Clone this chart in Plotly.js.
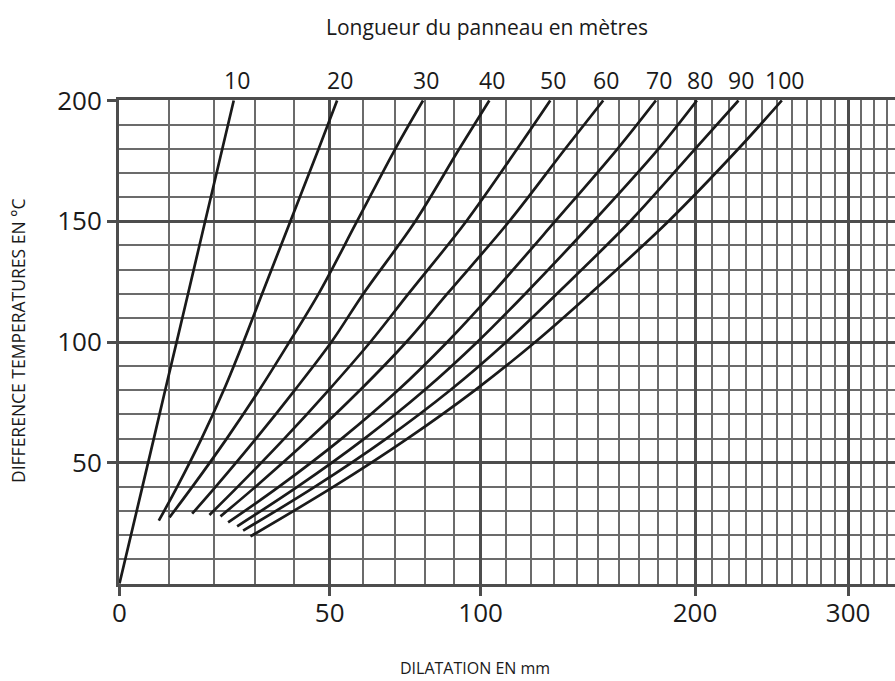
<!DOCTYPE html>
<html><head><meta charset="utf-8">
<script src="https://cdn.plot.ly/plotly-3.0.1.min.js"></script>
<style>html,body{margin:0;padding:0;background:#fff;} #chart{width:895px;height:681px;}</style>
</head><body><div id="chart"></div>
<script>
// Panel lengths (m) – one curve each
const panelLengths = [10, 20, 30, 40, 50, 60, 70, 80, 90, 100];
// Temperature where each curve starts (°C)
const startTemps = [0, 26, 27.4, 28.9, 28.4, 27.8, 25.3, 23.7, 21.9, 19.5];
// Temperature levels read after the start point (°C)
const tempLevels = [40, 60, 80, 100, 120, 150, 180, 200];
// Dilatation (mm) at the start temperature, then at each temperature level
const dil10  = [0, 4.55, 6.89, 9.27, 11.73, 14.22, 18.06, 22.04, 24.75];
const dil20  = [7.93, 11.84, 17.24, 22.35, 27.10, 31.76, 39.12, 46.87, 52.14];
const dil30  = [10.19, 15.15, 23.08, 31.00, 38.85, 46.87, 58.07, 70.05, 79.26];
const dil40  = [15.13, 20.45, 30.22, 40.24, 50.49, 59.98, 76.66, 92.08, 103.34];
const dil50  = [19.04, 25.69, 37.50, 49.65, 62.13, 74.38, 94.65, 114.42, 128.25];
const dil60  = [21.60, 30.05, 44.31, 58.91, 73.65, 87.75, 111.20, 134.82, 152.30];
const dil70  = [23.41, 36.03, 53.48, 70.90, 87.75, 104.38, 130.42, 159.21, 178.68];
const dil80  = [25.57, 40.97, 60.31, 79.71, 98.76, 117.70, 147.72, 180.05, 201.06];
const dil90  = [27.03, 45.75, 67.16, 88.75, 110.00, 131.16, 165.50, 200.10, 225.57];
const dil100 = [28.83, 51.03, 74.02, 97.81, 121.86, 146.18, 185.38, 225.57, 253.23];
const dilSeries = [dil10, dil20, dil30, dil40, dil50, dil60, dil70, dil80, dil90, dil100];
// Axis ticks
const xTickVals = [0, 50, 100, 200, 300];
const xTickText = ['0', '50', '100', '200', '300'];
const yTickVals = [50, 100, 150, 200];
const yTickText = ['50', '100', '150', '200'];

// The dilatation scale is graduated logarithmically in (mm + offset)
const SCALE_OFFSET = 105;
const sx = v => v + SCALE_OFFSET;
const X_MAX_MM = 336.8;

const FONT = '"Open Sans", "Noto Sans", sans-serif';
const INK = '#1a1a1a';

const traces = dilSeries.map((d, i) => ({
  type: 'scatter', mode: 'lines',
  x: d.map(sx),
  y: [startTemps[i]].concat(tempLevels),
  line: {color: INK, width: 2.7, shape: 'spline', smoothing: 1},
  hoverinfo: 'skip', showlegend: false
}));

const minorX = [];
for (let v = 10; v <= 340; v += 10) if (!xTickVals.includes(v)) minorX.push(sx(v));
const minorY = [];
for (let v = 10; v < 200; v += 10) if (!yTickVals.includes(v)) minorY.push(v);

const annotations = panelLengths.map((L, i) => {
  const d = dilSeries[i];
  return {
    text: String(L), xref: 'x', yref: 'paper',
    x: Math.log10(sx(d[d.length - 1])), y: 1,
    xanchor: 'center', yanchor: 'middle', xshift: 3, yshift: 20,
    showarrow: false, font: {family: FONT, size: 23, color: INK}
  };
});
annotations.push({
  text: 'Longueur du panneau en mètres', xref: 'paper', yref: 'paper',
  x: (487 - 119) / 776, y: 1 + (100 - 27) / 484, xanchor: 'center', yanchor: 'middle',
  showarrow: false, font: {family: FONT, size: 21, color: INK}
});
annotations.push({
  text: 'DILATATION EN mm', xref: 'paper', yref: 'paper',
  x: (475 - 119) / 776, y: -(668 - 584) / 484, xanchor: 'center', yanchor: 'middle',
  showarrow: false, font: {family: FONT, size: 16, color: INK}
});
annotations.push({
  text: 'DIFFERENCE TEMPERATURES EN °C', xref: 'paper', yref: 'paper',
  x: -(119 - 18) / 776, y: (584 - 340) / 484, xanchor: 'center', yanchor: 'middle',
  textangle: -90, showarrow: false, font: {family: FONT, size: 17.5, color: INK}
});

const layout = {
  width: 895, height: 681,
  margin: {l: 119, r: 0, t: 100, b: 97, pad: 0},
  paper_bgcolor: '#fff', plot_bgcolor: '#fff',
  showlegend: false,
  xaxis: {
    type: 'log',
    range: [Math.log10(sx(0)) - 0.0004, Math.log10(sx(X_MAX_MM))],
    tickmode: 'array', tickvals: xTickVals.map(sx), ticktext: xTickText,
    showgrid: true, gridcolor: '#4d4d4d', gridwidth: 3,
    ticks: 'outside', ticklen: 9, tickwidth: 3, tickcolor: '#4d4d4d',
    ticklabelstandoff: -5,
    showline: true, mirror: true, linecolor: '#4d4d4d', linewidth: 3,
    zeroline: false,
    tickfont: {family: FONT, size: 26, color: INK},
    minor: {tickmode: 'array', tickvals: minorX, showgrid: true, gridcolor: '#6b6b6b', gridwidth: 2, ticks: ''},
    fixedrange: true
  },
  yaxis: {
    range: [-0.2, 200.2],
    tickmode: 'array', tickvals: yTickVals, ticktext: yTickText,
    showgrid: true, gridcolor: '#4d4d4d', gridwidth: 3,
    ticks: 'outside', ticklen: 9, tickwidth: 3, tickcolor: '#4d4d4d',
    showline: true, linecolor: '#4d4d4d', linewidth: 3,
    zeroline: false,
    tickfont: {family: FONT, size: 26, color: INK},
    minor: {tickmode: 'array', tickvals: minorY, showgrid: true, gridcolor: '#6b6b6b', gridwidth: 2, ticks: ''},
    fixedrange: true
  },
  annotations: annotations
};

Plotly.newPlot('chart', traces, layout, {staticPlot: true, displayModeBar: false});
</script>
</body></html>
